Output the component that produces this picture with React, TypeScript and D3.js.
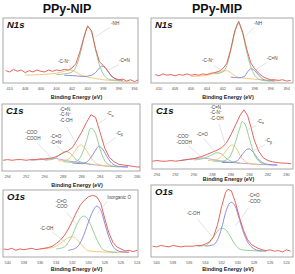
import React from "react";
import * as d3 from "d3";

type Pt = [number, number];

// ---- N1s, PPy-NIP (binding energy eV, relative intensity) ----
const n1sNipRaw: Pt[] = [
  [410.5, 0.19], [410, 0.17], [409.5, 0.21], [409, 0.18], [408.5, 0.2], [408, 0.16], [407.5, 0.19],
  [407, 0.17], [406.5, 0.2], [406, 0.18], [405.5, 0.17], [405, 0.2], [404.5, 0.18], [404, 0.2],
  [403.5, 0.19], [403, 0.21], [402.5, 0.2], [402, 0.23], [401.5, 0.3], [401, 0.48], [400.5, 0.7],
  [400, 0.88], [399.5, 0.8], [399, 0.53], [398.5, 0.33], [398, 0.27], [397.5, 0.2], [397, 0.11],
  [396.5, 0.07], [396, 0.05], [395.5, 0.06], [395, 0.03], [394.5, 0.05], [394, 0.02], [393.5, 0.05],
];
const n1sNipNH: Pt[] = [
  [404, 0.13], [403, 0.14], [402, 0.17], [401.5, 0.25], [401, 0.43], [400.5, 0.68], [400, 0.86],
  [399.5, 0.78], [399, 0.52], [398.5, 0.28], [398, 0.14], [397.5, 0.07], [397, 0.05], [396, 0.04],
];
const n1sNipCN: Pt[] = [
  [403, 0.12], [401.5, 0.11], [400.5, 0.1], [399.5, 0.12], [399, 0.16], [398.5, 0.23], [398.2, 0.26],
  [397.8, 0.24], [397.3, 0.16], [396.8, 0.09], [396.2, 0.05], [395.5, 0.04],
];
const n1sNipCNplus: Pt[] = [
  [408, 0.12], [406, 0.13], [404, 0.15], [403, 0.18], [402.3, 0.2], [401.7, 0.18], [401, 0.13],
  [400, 0.09], [399, 0.07], [398, 0.05], [396, 0.03], [394.5, 0.01],
];

// ---- N1s, PPy-MIP ----
const n1sMipRaw: Pt[] = [
  [410.5, 0.13], [410, 0.11], [409.5, 0.14], [409, 0.12], [408.5, 0.13], [408, 0.11], [407.5, 0.13],
  [407, 0.12], [406.5, 0.14], [406, 0.12], [405.5, 0.13], [405, 0.12], [404.5, 0.14], [404, 0.13],
  [403.5, 0.15], [403, 0.16], [402.5, 0.18], [402, 0.22], [401.5, 0.3], [401, 0.52], [400.5, 0.8],
  [400, 0.95], [399.5, 0.78], [399, 0.52], [398.5, 0.31], [398, 0.22], [397.5, 0.15], [397, 0.1],
  [396.5, 0.07], [396, 0.05], [395.5, 0.05], [395, 0.04], [394.5, 0.05], [394, 0.03], [393.5, 0.04],
];
const n1sMipNH: Pt[] = [
  [403, 0.14], [402, 0.17], [401.5, 0.27], [401, 0.5], [400.5, 0.78], [400.1, 0.92], [399.5, 0.75],
  [399, 0.48], [398.5, 0.25], [398, 0.12], [397.5, 0.06], [397, 0.04], [396, 0.03],
];
const n1sMipCN: Pt[] = [
  [401, 0.09], [400, 0.08], [399.3, 0.1], [398.9, 0.17], [398.45, 0.22], [398, 0.19], [397.5, 0.12],
  [397, 0.06], [396.5, 0.04], [395.5, 0.03],
];
const n1sMipCNplus: Pt[] = [
  [406, 0.1], [404, 0.12], [403, 0.15], [402, 0.18], [401.5, 0.19], [401, 0.16], [400.3, 0.1],
  [399, 0.07], [397, 0.05], [395, 0.03],
];

// ---- C1s, PPy-NIP ----
const c1sNipRaw: Pt[] = [
  [294.5, 0.16], [294, 0.17], [293.5, 0.16], [293, 0.17], [292.5, 0.17], [292, 0.16], [291.5, 0.17],
  [291, 0.17], [290.5, 0.18], [290, 0.18], [289.5, 0.19], [289, 0.2], [288.5, 0.23], [288, 0.27],
  [287.5, 0.3], [287, 0.35], [286.5, 0.46], [286, 0.58], [285.5, 0.72], [285, 0.84], [284.5, 0.8],
  [284, 0.57], [283.5, 0.34], [283, 0.2], [282.5, 0.14], [282, 0.1], [281.5, 0.09], [281, 0.08],
  [280.5, 0.07], [280, 0.06], [279.7, 0.06],
];
const c1sNipCa: Pt[] = [
  [288, 0.14], [287, 0.13], [286.5, 0.15], [286, 0.24], [285.5, 0.44], [285, 0.64], [284.5, 0.56],
  [284, 0.32], [283.5, 0.15], [283, 0.09], [282.5, 0.07], [282, 0.06],
];
const c1sNipCb: Pt[] = [
  [287, 0.12], [286, 0.11], [285.5, 0.13], [285, 0.2], [284.5, 0.31], [284.15, 0.37], [283.7, 0.32],
  [283.2, 0.2], [282.7, 0.11], [282, 0.07], [281, 0.06],
];
const c1sNipCN: Pt[] = [
  [288.5, 0.15], [287.5, 0.17], [287, 0.24], [286.5, 0.34], [286.1, 0.39], [285.6, 0.33], [285, 0.2],
  [284.5, 0.12], [284, 0.09], [283, 0.07],
];
const c1sNipCO: Pt[] = [
  [290, 0.16], [289, 0.18], [288.3, 0.25], [287.7, 0.29], [287.2, 0.26], [286.6, 0.17], [286, 0.13],
  [285, 0.1],
];
const c1sNipCOO: Pt[] = [
  [291.5, 0.16], [290.5, 0.17], [289.5, 0.18], [289, 0.19], [288.5, 0.18], [287.5, 0.15],
  [286.5, 0.13], [285, 0.1], [283, 0.07], [281, 0.06],
];

// ---- C1s, PPy-MIP ----
const c1sMipRaw: Pt[] = [
  [294.5, 0.12], [294, 0.13], [293.5, 0.12], [293, 0.12], [292.5, 0.13], [292, 0.12], [291.5, 0.13],
  [291, 0.14], [290.5, 0.15], [290, 0.16], [289.5, 0.18], [289, 0.2], [288.5, 0.23], [288, 0.26],
  [287.5, 0.29], [287, 0.33], [286.5, 0.4], [286, 0.53], [285.5, 0.68], [285, 0.83], [284.6, 0.91],
  [284.2, 0.82], [283.8, 0.62], [283.5, 0.45], [283, 0.27], [282.5, 0.17], [282, 0.13], [281.5, 0.11],
  [281, 0.1], [280.5, 0.09], [280, 0.09], [279.5, 0.08],
];
const c1sMipCa: Pt[] = [
  [288, 0.12], [287, 0.12], [286.5, 0.14], [286, 0.22], [285.5, 0.42], [285, 0.65], [284.78, 0.73],
  [284.4, 0.66], [284, 0.46], [283.5, 0.23], [283, 0.12], [282.5, 0.08], [282, 0.07],
];
const c1sMipCb: Pt[] = [
  [287, 0.1], [286, 0.1], [285.3, 0.13], [284.8, 0.22], [284.3, 0.3], [284.05, 0.31], [283.6, 0.26],
  [283.1, 0.16], [282.6, 0.1], [282, 0.07], [281, 0.06],
];
const c1sMipCN: Pt[] = [
  [288.5, 0.13], [287.5, 0.15], [287, 0.2], [286.5, 0.29], [285.9, 0.37], [285.4, 0.31], [284.9, 0.18],
  [284.4, 0.11], [283.8, 0.08], [283, 0.07],
];
const c1sMipCO: Pt[] = [
  [290, 0.14], [289, 0.16], [288.2, 0.21], [287.5, 0.25], [287, 0.23], [286.4, 0.15], [285.8, 0.11],
  [285, 0.09],
];
const c1sMipCOO: Pt[] = [
  [291.5, 0.13], [290.5, 0.15], [289.7, 0.16], [289.2, 0.17], [288.5, 0.16], [287.5, 0.13],
  [286.5, 0.11], [285, 0.09], [283, 0.07], [281, 0.06],
];

// ---- O1s, PPy-NIP ----
const o1sNipRaw: Pt[] = [
  [540.5, 0.12], [540, 0.11], [539.5, 0.13], [539, 0.1], [538.5, 0.12], [538, 0.11], [537.5, 0.12],
  [537, 0.13], [536.5, 0.11], [536, 0.12], [535.5, 0.13], [535, 0.14], [534.5, 0.16], [534, 0.2],
  [533.5, 0.25], [533, 0.32], [532.5, 0.42], [532, 0.54], [531.5, 0.67], [531, 0.78], [530.5, 0.85],
  [530, 0.9], [529.5, 0.92], [529, 0.9], [528.5, 0.8], [528, 0.57], [527.5, 0.36], [527, 0.22],
  [526.5, 0.15], [526, 0.12], [525.5, 0.09], [525, 0.1], [524.5, 0.08], [524, 0.1],
];
const o1sNipCOH: Pt[] = [
  [536, 0.12], [534.5, 0.14], [533.5, 0.2], [533, 0.25], [532.5, 0.29], [532, 0.3], [531.5, 0.27],
  [531, 0.2], [530.5, 0.13], [530, 0.09], [529, 0.08], [527, 0.07], [525, 0.07],
];
const o1sNipCO: Pt[] = [
  [534, 0.12], [533, 0.15], [532.5, 0.22], [532, 0.33], [531.5, 0.47], [531, 0.58], [530.6, 0.61],
  [530.2, 0.58], [529.7, 0.47], [529.2, 0.32], [528.7, 0.19], [528.2, 0.11], [527.5, 0.08], [526.5, 0.07],
];
const o1sNipInorg: Pt[] = [
  [532.5, 0.1], [531.5, 0.14], [531, 0.22], [530.5, 0.36], [530, 0.53], [529.5, 0.68], [529, 0.76],
  [528.5, 0.7], [528, 0.5], [527.5, 0.3], [527, 0.16], [526.5, 0.1], [526, 0.08], [525, 0.07],
];

// ---- O1s, PPy-MIP ----
const o1sMipRaw: Pt[] = [
  [540.5, 0.15], [540, 0.14], [539.5, 0.16], [539, 0.15], [538.5, 0.14], [538, 0.16], [537.5, 0.15],
  [537, 0.14], [536.5, 0.15], [536, 0.15], [535.5, 0.15], [535, 0.16], [534.5, 0.16], [534, 0.18],
  [533.5, 0.21], [533, 0.28], [532.5, 0.45], [532, 0.7], [531.5, 0.9], [531.2, 0.94], [530.8, 0.92],
  [530.3, 0.76], [529.8, 0.55], [529.3, 0.37], [528.8, 0.24], [528.3, 0.17], [527.5, 0.12], [527, 0.1],
  [526.5, 0.09], [526, 0.1], [525.5, 0.08], [525, 0.09], [524.5, 0.07], [524, 0.1], [523.5, 0.08],
];
const o1sMipCO: Pt[] = [
  [534, 0.15], [533, 0.17], [532.5, 0.24], [532, 0.4], [531.5, 0.62], [531, 0.75], [530.8, 0.76],
  [530.3, 0.7], [529.8, 0.52], [529.3, 0.34], [528.8, 0.21], [528.3, 0.14], [527.5, 0.09], [526.5, 0.08],
];
const o1sMipCOH: Pt[] = [
  [535, 0.15], [534, 0.16], [533.5, 0.2], [533, 0.28], [532.5, 0.36], [532, 0.4], [531.5, 0.38],
  [531, 0.3], [530.5, 0.2], [530, 0.13], [529.5, 0.1], [528.5, 0.09], [527, 0.08],
];

const n1sTicks = [410, 408, 406, 404, 402, 400, 398, 396, 394];
const c1sTicks = [294, 292, 290, 288, 286, 284, 282, 280];
const o1sTicks = [540, 538, 536, 534, 532, 530, 528, 526, 524];

const RED = "#e2524c";
const GREEN = "#8acb8a";
const BLUE = "#8282d2";
const ORANGE = "#f3c373";
const PURPLE = "#b996d4";
const FONT = "'Liberation Sans', Arial, sans-serif";

type Note = { text: string[]; at: Pt; from: Pt; to: Pt };
type PanelProps = {
  id: string;
  box: { x: number; y: number; w: number; h: number };
  domain: [number, number];
  ticks: number[];
  name: string;
  raw: Pt[];
  fits: { data: Pt[]; color: string }[];
  notes: Note[];
  labelY: number;
};

function Label({ s }: { s: string }) {
  // "_a" / "_b" mark subscripts
  if (s.endsWith("_a") || s.endsWith("_b")) {
    return (
      <>
        {s.slice(0, -2)}
        <tspan dy={1.2} fontSize={3.6}>{s.endsWith("_a") ? "α" : "β"}</tspan>
      </>
    );
  }
  return <>{s}</>;
}

function Panel({ id, box, domain, ticks, name, raw, fits, notes, labelY }: PanelProps) {
  const x = d3.scaleLinear().domain(domain).range([box.x, box.x + box.w]);
  const y = d3.scaleLinear().domain([0, 1]).range([box.y + box.h, box.y]);
  const smooth = d3.line<Pt>().x(d => x(d[0])).y(d => y(d[1])).curve(d3.curveMonotoneX);
  const jagged = d3.line<Pt>().x(d => x(d[0])).y(d => y(d[1]));

  return (
    <g>
      <clipPath id={id}>
        <rect x={box.x} y={box.y} width={box.w} height={box.h} />
      </clipPath>
      <rect x={box.x} y={box.y} width={box.w} height={box.h} fill="#fff" stroke="#a8a8a8" strokeWidth={1} />
      <g clipPath={`url(#${id})`}>
        {fits.map((f, i) => (
          <path key={i} d={smooth(f.data) || ""} fill="none" stroke={f.color} strokeWidth={0.9} />
        ))}
        <path d={jagged(raw) || ""} fill="none" stroke={RED} strokeWidth={0.9} />
      </g>
      {notes.map((n, i) => (
        <g key={i}>
          <line x1={x(n.from[0])} y1={y(n.from[1])} x2={x(n.to[0])} y2={y(n.to[1])} stroke="#c4c4c4" strokeWidth={0.5} />
          {n.text.map((t, j) => (
            <text key={j} x={x(n.at[0])} y={y(n.at[1]) + j * 5.6} fontSize={4.6} fill="#444" fontFamily={FONT}>
              <Label s={t} />
            </text>
          ))}
        </g>
      ))}
      <text x={box.x + 4} y={box.y + 10} fontSize={9.5} fontWeight="bold" fontStyle="italic" fontFamily={FONT} fill="#111">
        {name}
      </text>
      {ticks.map(t => (
        <text key={t} x={x(t)} y={box.y + box.h + 6.5} fontSize={3.8} textAnchor="middle" fill="#555" fontFamily={FONT}>
          {t}
        </text>
      ))}
      <text x={box.x + box.w / 2 + 6} y={labelY} fontSize={5.4} fontWeight="bold" textAnchor="middle" fill="#222" fontFamily={FONT}>
        Binding Energy (eV)
      </text>
    </g>
  );
}

export default function App() {
  return (
    <svg width={295} height={274} style={{ position: "absolute", left: 0, top: 0, background: "#fff" }}>
      <text x={67} y={13} fontSize={12.5} fontWeight="bold" textAnchor="middle" fontFamily={FONT} fill="#111">PPy-NIP</text>
      <text x={217} y={13} fontSize={12.5} fontWeight="bold" textAnchor="middle" fontFamily={FONT} fill="#111">PPy-MIP</text>

      <Panel
        id="c1" box={{ x: 3, y: 18, w: 135, h: 65 }} domain={[410.85, 393.55]} ticks={n1sTicks} name="N1s"
        raw={n1sNipRaw} labelY={99}
        fits={[{ data: n1sNipCNplus, color: ORANGE }, { data: n1sNipCN, color: BLUE }, { data: n1sNipNH, color: GREEN }]}
        notes={[
          { text: ["-NH"], at: [397.0, 0.9], from: [397.1, 0.86], to: [399.0, 0.71] },
          { text: ["-C=N"], at: [396.0, 0.32], from: [396.0, 0.28], to: [397.6, 0.19] },
          { text: ["-C-N⁺"], at: [403.8, 0.31], from: [402.4, 0.27], to: [402.0, 0.2] },
        ]}
      />
      <Panel
        id="c2" box={{ x: 151, y: 18, w: 142, h: 65 }} domain={[411.0, 393.2]} ticks={n1sTicks} name="N1s"
        raw={n1sMipRaw} labelY={99}
        fits={[{ data: n1sMipCNplus, color: ORANGE }, { data: n1sMipCN, color: BLUE }, { data: n1sMipNH, color: GREEN }]}
        notes={[
          { text: ["-NH"], at: [398.1, 0.89], from: [398.1, 0.85], to: [399.45, 0.69] },
          { text: ["-C=N"], at: [396.5, 0.36], from: [396.4, 0.32], to: [397.9, 0.2] },
          { text: ["-C-N⁺"], at: [404.6, 0.32], from: [403.15, 0.27], to: [401.8, 0.18] },
        ]}
      />
      <Panel
        id="c3" box={{ x: 2, y: 104, w: 138, h: 67 }} domain={[294.6, 279.7]} ticks={c1sTicks} name="C1s"
        raw={c1sNipRaw} labelY={187}
        fits={[
          { data: c1sNipCOO, color: PURPLE }, { data: c1sNipCO, color: GREEN }, { data: c1sNipCN, color: ORANGE },
          { data: c1sNipCb, color: BLUE }, { data: c1sNipCa, color: GREEN },
        ]}
        notes={[
          { text: ["-C=N", "-C-N⁺", "-C-OH"], at: [288.4, 0.9], from: [287.6, 0.66], to: [286.4, 0.35] },
          { text: ["-C=O", "-C=N⁺"], at: [289.4, 0.49], from: [288.7, 0.38], to: [287.8, 0.27] },
          { text: ["-COO⁻", "-COOH"], at: [292.1, 0.55], from: [290.8, 0.42], to: [289.2, 0.19] },
          { text: ["-C_a"], at: [283.3, 0.83], from: [283.3, 0.79], to: [284.3, 0.7] },
          { text: ["-C_b"], at: [282.3, 0.54], from: [282.35, 0.5], to: [283.4, 0.39] },
        ]}
      />
      <Panel
        id="c4" box={{ x: 152, y: 104, w: 141, h: 65 }} domain={[294.54, 279.3]} ticks={c1sTicks} name="C1s"
        raw={c1sMipRaw} labelY={181}
        fits={[
          { data: c1sMipCOO, color: PURPLE }, { data: c1sMipCO, color: GREEN }, { data: c1sMipCN, color: ORANGE },
          { data: c1sMipCb, color: BLUE }, { data: c1sMipCa, color: GREEN },
        ]}
        notes={[
          { text: ["-C=N", "-C-N⁺", "-C-OH"], at: [288.25, 0.93], from: [287.3, 0.7], to: [286.6, 0.37] },
          { text: ["-C=O"], at: [289.7, 0.51], from: [288.95, 0.47], to: [287.7, 0.26] },
          { text: ["-COO⁻", "-COOH"], at: [291.9, 0.47], from: [290.6, 0.36], to: [289.1, 0.17] },
          { text: ["-C_a"], at: [283.2, 0.71], from: [283.25, 0.67], to: [284.25, 0.6] },
          { text: ["-C_b"], at: [282.3, 0.41], from: [282.35, 0.37], to: [283.5, 0.29] },
        ]}
      />
      <Panel
        id="c5" box={{ x: 3, y: 190, w: 135, h: 67 }} domain={[540.58, 523.9]} ticks={o1sTicks} name="O1s"
        raw={o1sNipRaw} labelY={271}
        fits={[{ data: o1sNipCOH, color: ORANGE }, { data: o1sNipCO, color: GREEN }, { data: o1sNipInorg, color: BLUE }]}
        notes={[
          { text: ["-C=O", "-COO⁻"], at: [534.1, 0.81], from: [532.7, 0.66], to: [531.4, 0.48] },
          { text: ["Inorganic O"], at: [527.7, 0.87], from: [527.7, 0.83], to: [528.95, 0.65] },
          { text: ["-C-OH"], at: [536.0, 0.41], from: [534.5, 0.37], to: [532.45, 0.18] },
        ]}
      />
      <Panel
        id="c6" box={{ x: 151, y: 185, w: 142, h: 72 }} domain={[540.7, 523.2]} ticks={o1sTicks} name="O1s"
        raw={o1sMipRaw} labelY={271}
        fits={[{ data: o1sMipCOH, color: GREEN }, { data: o1sMipCO, color: BLUE }]}
        notes={[
          { text: ["-C=O", "-COO⁻"], at: [528.7, 0.83], from: [528.7, 0.68], to: [530.3, 0.43] },
          { text: ["-C-OH"], at: [536.3, 0.58], from: [535.0, 0.53], to: [533.2, 0.29] },
        ]}
      />
    </svg>
  );
}
